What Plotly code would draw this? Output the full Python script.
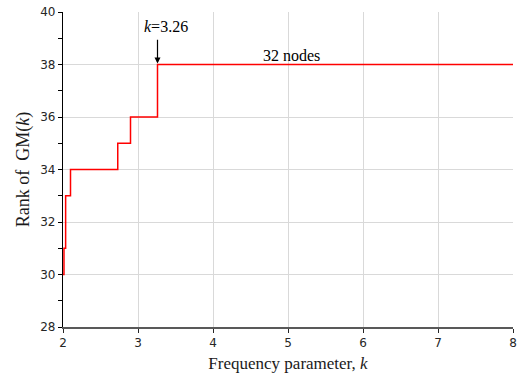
import plotly.graph_objects as go

k_vals = [2.0, 2.013, 2.035, 2.10, 2.73, 2.90, 3.26, 8.0]
rank_vals = [30, 31, 33, 34, 35, 36, 38, 38]
x_ticks = [2, 3, 4, 5, 6, 7, 8]
y_ticks = [28, 30, 32, 34, 36, 38, 40]

fig = go.Figure()
fig.add_trace(go.Scatter(x=k_vals, y=rank_vals, mode="lines", line=dict(color="#ff0000", width=1.5, shape="hv"),
                         showlegend=False, hoverinfo="skip"))

fig.add_annotation(x=3.26, y=38, ax=3.26, ay=39.0, xref="x", yref="y", axref="x", ayref="y",
                   showarrow=True, arrowhead=2, arrowsize=1, arrowwidth=1.2, arrowcolor="black",
                   standoff=1, text="")
fig.add_annotation(x=3.26, y=39.0, xref="x", yref="y", text="<i>k</i>=3.26", showarrow=False,
                   yanchor="bottom", yshift=1, xshift=8,
                   font=dict(family="Liberation Serif", size=16, color="black"))
fig.add_annotation(x=5.04, y=38, xref="x", yref="y", text="32 nodes", showarrow=False,
                   yanchor="bottom", yshift=-1, font=dict(family="Liberation Serif", size=16, color="black"))

fig.update_layout(
    width=528, height=373,
    margin=dict(l=63, r=15, t=12, b=46),
    paper_bgcolor="white", plot_bgcolor="white",
    font=dict(family="DejaVu Sans", size=12, color="#262626"),
)
fig.update_xaxes(range=[2, 8], tickvals=x_ticks, showgrid=True, gridcolor="#d9d9d9", gridwidth=1,
                 showline=True, linecolor="#595959", linewidth=2, ticks="outside", ticklen=4,
                 tickcolor="#262626", tickwidth=1.2, zeroline=False, automargin=False,
                 title=dict(text="Frequency parameter, <i>k</i>", font=dict(family="Liberation Serif", size=17, color="#1a1a1a"),
                            standoff=10))
fig.update_yaxes(range=[28, 40], tickvals=y_ticks, showgrid=True, gridcolor="#d9d9d9", gridwidth=1,
                 showline=True, linecolor="black", linewidth=1.2, ticks="outside", ticklen=4,
                 tickcolor="black", zeroline=False, automargin=False,
                 minor=dict(dtick=1, ticks="outside", ticklen=4, tickcolor="black", showgrid=False),
                 title=dict(text="Rank of  GM(<i>k</i>)", font=dict(family="Liberation Serif", size=18, color="#1a1a1a"),
                            standoff=5))

fig.write_html("out.html", config={"displayModeBar": False},
               post_script="document.body.style.margin='0';document.body.style.overflow='hidden';")
